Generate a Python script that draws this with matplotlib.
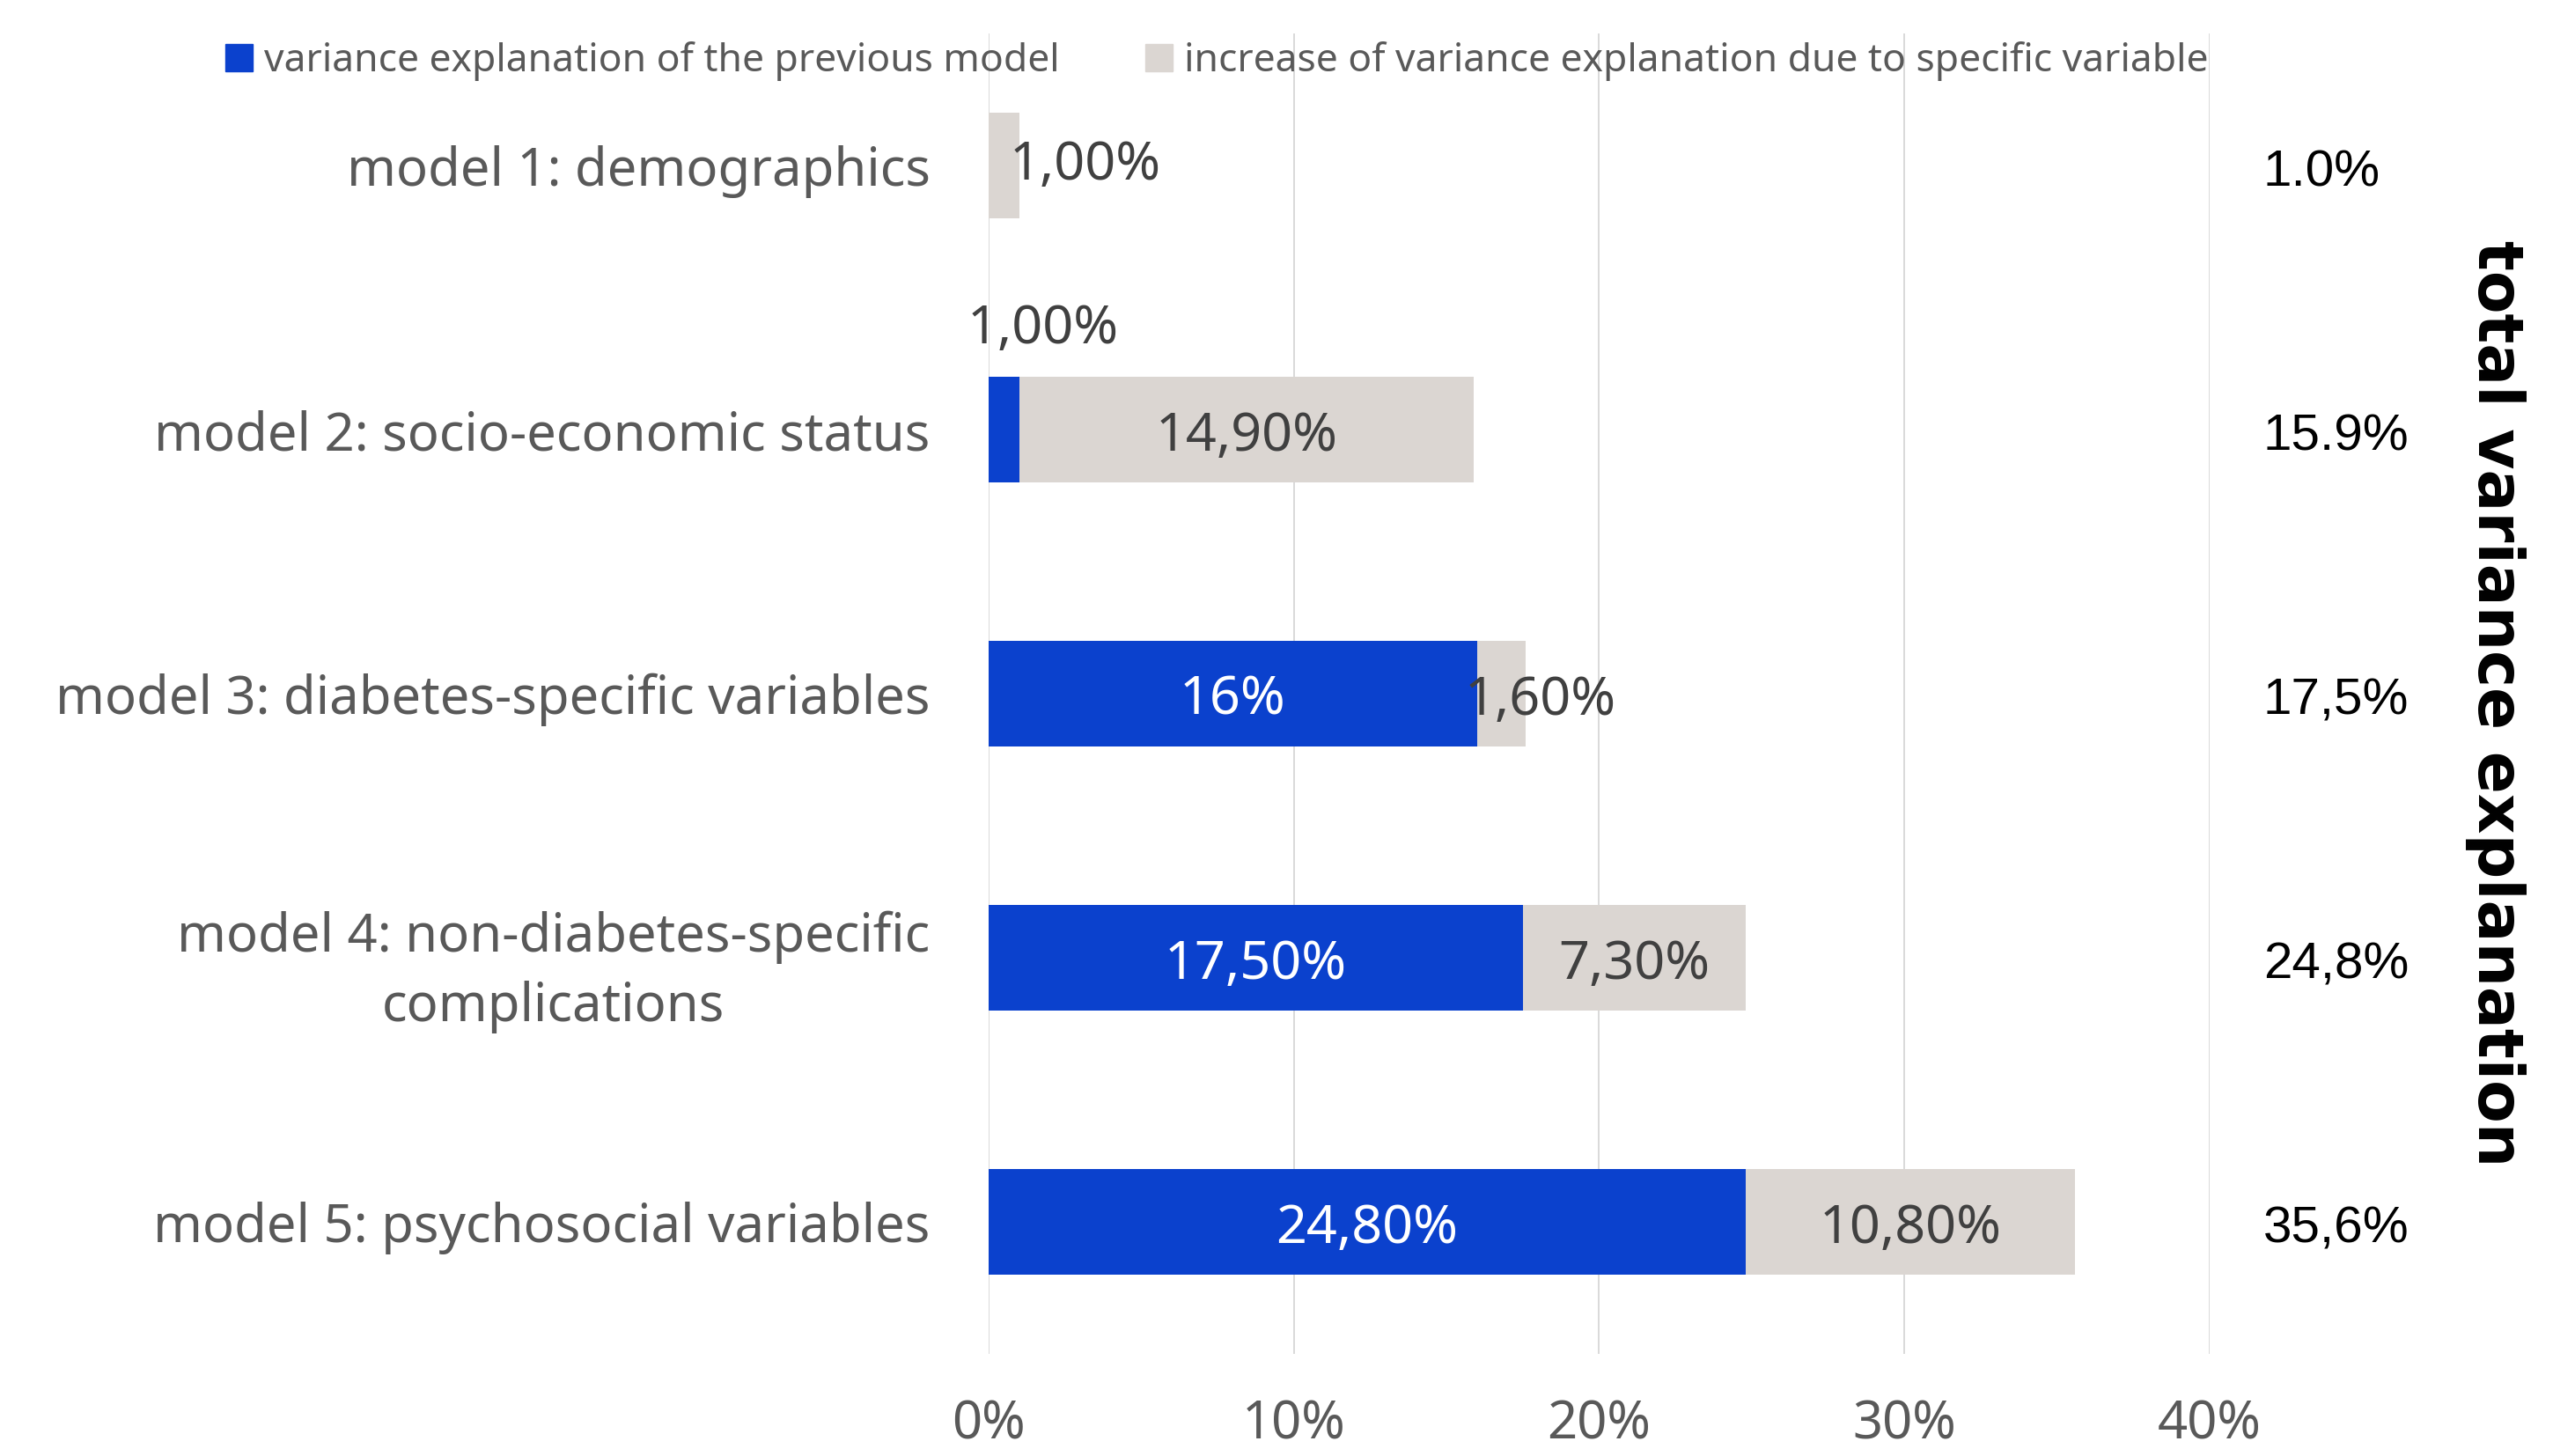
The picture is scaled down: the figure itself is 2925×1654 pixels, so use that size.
import matplotlib.pyplot as plt
from matplotlib.patches import Patch

# Data
MODELS = ["model 1: demographics",
          "model 2: socio-economic status",
          "model 3: diabetes-specific variables",
          "model 4: non-diabetes-specific\ncomplications",
          "model 5: psychosocial variables"]
PREVIOUS = [0.0, 1.0, 16.0, 17.5, 24.8]
INCREASE = [1.0, 14.9, 1.6, 7.3, 10.8]
PREV_LABELS = ["", "1,00%", "16%", "17,50%", "24,80%"]
INC_LABELS = ["1,00%", "14,90%", "1,60%", "7,30%", "10,80%"]
TOTAL_LABELS = ["1.0%", "15.9%", "17,5%", "24,8%", "35,6%"]
X_TICKS = [0, 10, 20, 30, 40]
X_TICK_LABELS = ["0%", "10%", "20%", "30%", "40%"]

BLUE = "#0B41CD"
GREY = "#DBD6D2"
TEXT_GREY = "#595959"
LABEL_DARK = "#404040"

# label nudges in points (dx, dy) to mimic the original placement
PREV_OFFSETS = [(0, 0), (32, 82), (0, -6), (0, -6), (0, -6)]
INC_OFFSETS = [(66, 0), (0, -6), (32, -6), (0, -6), (0, -6)]

plt.rcParams["font.family"] = ["Noto Sans", "DejaVu Sans"]

fig = plt.figure(figsize=(29.25, 16.54), dpi=100)
ax = fig.add_axes([0.384, 0.070, 0.474, 0.907])

y = list(range(len(MODELS)))
ax.barh(y, PREVIOUS, height=0.4, color=BLUE, zorder=3)
ax.barh(y, INCREASE, left=PREVIOUS, height=0.4, color=GREY, zorder=3)

ax.set_xlim(0, 40)
ax.set_ylim(4.5, -0.5)
ax.set_xticks(X_TICKS)
ax.set_xticklabels(X_TICK_LABELS, fontsize=43, color=TEXT_GREY)
ax.set_yticks(y)
ax.set_yticklabels(MODELS, fontsize=43, color=TEXT_GREY, multialignment="center",
                   linespacing=1.4)
ax.tick_params(axis="both", length=0)
ax.tick_params(axis="x", pad=36)
ax.tick_params(axis="y", pad=48)
ax.grid(axis="x", color="#D9D9D9", linewidth=1.4, zorder=0)
for s in ax.spines.values():
    s.set_visible(False)

# value labels on the segments
for i in range(len(MODELS)):
    if PREV_LABELS[i]:
        ax.annotate(PREV_LABELS[i], (PREVIOUS[i] / 2, i), xytext=PREV_OFFSETS[i],
                    textcoords="offset points", ha="center", va="center", fontsize=44,
                    color=LABEL_DARK if i == 1 else "white", zorder=4)
    ax.annotate(INC_LABELS[i], (PREVIOUS[i] + INCREASE[i] / 2, i), xytext=INC_OFFSETS[i],
                textcoords="offset points", ha="center", va="center", fontsize=44,
                color=LABEL_DARK, zorder=4)

# totals column on the right
for i, t in enumerate(TOTAL_LABELS):
    ax.annotate(t, (1.0, i), xycoords=("axes fraction", "data"), xytext=(44, -6),
                textcoords="offset points", ha="left", va="center", fontsize=42,
                family="Liberation Sans", color="black")

fig.text(0.969, 0.517, "total variance explanation", rotation=-90, ha="center", va="center",
         fontsize=51, fontweight="bold", color="black", family="DejaVu Sans")

handles = [Patch(color=BLUE), Patch(color=GREY)]
fig.legend(handles, ["variance explanation of the previous model",
                     "increase of variance explanation due to specific variable"],
           loc="center left", bbox_to_anchor=(0.074, 0.958), ncol=2, frameon=False,
           fontsize=32, labelcolor=TEXT_GREY, handlelength=0.68, handleheight=0.68,
           handletextpad=0.3, columnspacing=2.2)

fig.savefig("out.png", dpi=100)
